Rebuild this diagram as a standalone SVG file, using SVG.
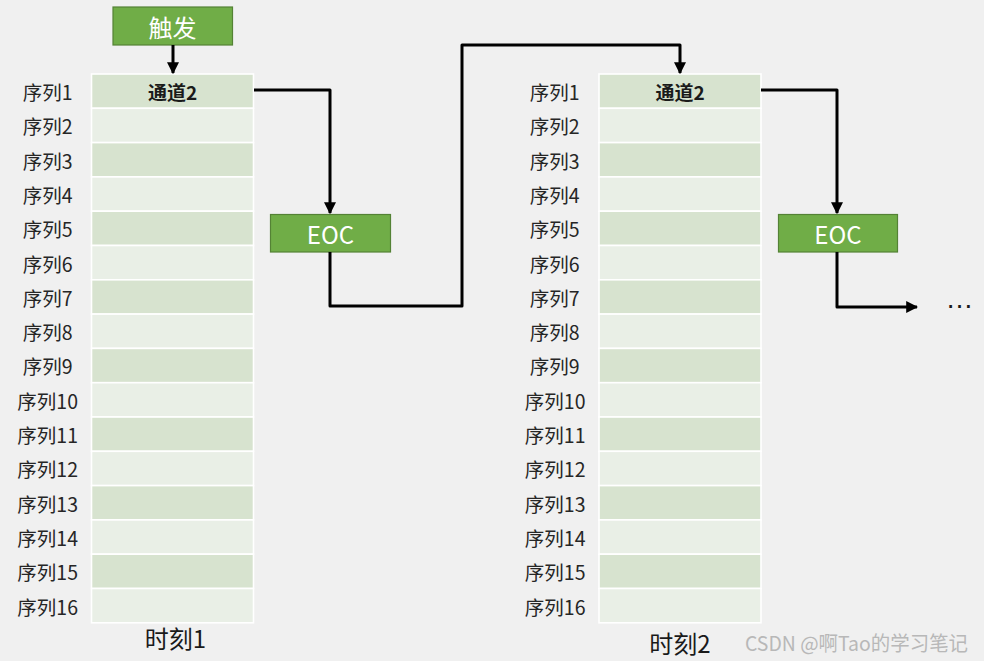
<svg xmlns="http://www.w3.org/2000/svg" width="984" height="661" viewBox="0 0 984 661">
<defs>
<style>
.bg{fill:#f0f0f0}
.dk{fill:#d7e3cf;stroke:#ffffff;stroke-width:1.6}
.lt{fill:#e9efe6;stroke:#ffffff;stroke-width:1.6}
.box{fill:#70ad47;stroke:#548235;stroke-width:1.2}
.bt{font-family:"Noto Sans CJK SC","Liberation Sans",sans-serif;fill:#ffffff;font-size:24px;text-anchor:middle;dominant-baseline:central}
.lb{font-family:"Noto Sans CJK SC","Liberation Sans",sans-serif;fill:#262626;font-size:19.5px;text-anchor:end;dominant-baseline:central}
.ch{font-family:"Noto Sans CJK SC","Liberation Sans",sans-serif;fill:#1a1a1a;font-size:19px;font-weight:bold;text-anchor:middle;dominant-baseline:central}
.tm{font-family:"Noto Sans CJK SC","Liberation Sans",sans-serif;fill:#1a1a1a;font-size:24px;text-anchor:middle;dominant-baseline:central}
.wm{font-family:"Noto Sans CJK SC","Liberation Sans",sans-serif;fill:#b8b8b8;font-size:20px;dominant-baseline:central}
.ln{fill:none;stroke:#000000;stroke-width:3;stroke-linejoin:round}
</style>
<marker id="ah" viewBox="0 0 10 10" refX="9" refY="5" markerWidth="4" markerHeight="4" orient="auto" markerUnits="strokeWidth">
<path d="M0,0 L10,5 L0,10 z" fill="#000000"/>
</marker>
</defs>
<rect class="bg" x="0" y="0" width="984" height="661"/>

<g id="trigger">
<rect class="box" x="113" y="7" width="119.5" height="38"/>
<text class="bt" x="172.5" y="26">触发</text>
</g>

<g id="table1">
<rect class="dk" x="91.5" y="74" width="162" height="34.3"/>
<rect class="lt" x="91.5" y="108.3" width="162" height="34.3"/>
<rect class="dk" x="91.5" y="142.6" width="162" height="34.3"/>
<rect class="lt" x="91.5" y="176.9" width="162" height="34.3"/>
<rect class="dk" x="91.5" y="211.2" width="162" height="34.3"/>
<rect class="lt" x="91.5" y="245.5" width="162" height="34.3"/>
<rect class="dk" x="91.5" y="279.8" width="162" height="34.3"/>
<rect class="lt" x="91.5" y="314.1" width="162" height="34.3"/>
<rect class="dk" x="91.5" y="348.4" width="162" height="34.3"/>
<rect class="lt" x="91.5" y="382.7" width="162" height="34.3"/>
<rect class="dk" x="91.5" y="417" width="162" height="34.3"/>
<rect class="lt" x="91.5" y="451.3" width="162" height="34.3"/>
<rect class="dk" x="91.5" y="485.6" width="162" height="34.3"/>
<rect class="lt" x="91.5" y="519.9" width="162" height="34.3"/>
<rect class="dk" x="91.5" y="554.2" width="162" height="34.3"/>
<rect class="lt" x="91.5" y="588.5" width="162" height="34.3"/>
<text class="ch" x="172.5" y="91.5">通道2</text>
<text class="lb" x="72.5" y="91.5">序列1</text>
<text class="lb" x="72.5" y="125.8">序列2</text>
<text class="lb" x="72.5" y="160.1">序列3</text>
<text class="lb" x="72.5" y="194.4">序列4</text>
<text class="lb" x="72.5" y="228.7">序列5</text>
<text class="lb" x="72.5" y="263">序列6</text>
<text class="lb" x="72.5" y="297.3">序列7</text>
<text class="lb" x="72.5" y="331.6">序列8</text>
<text class="lb" x="72.5" y="365.9">序列9</text>
<text class="lb" x="78" y="400.2">序列10</text>
<text class="lb" x="78" y="434.5">序列11</text>
<text class="lb" x="78" y="468.8">序列12</text>
<text class="lb" x="78" y="503.1">序列13</text>
<text class="lb" x="78" y="537.4">序列14</text>
<text class="lb" x="78" y="571.7">序列15</text>
<text class="lb" x="78" y="606">序列16</text>
<text class="tm" x="175.5" y="637">时刻1</text>
</g>

<g id="eoc1">
<rect class="box" x="270.5" y="214.5" width="120" height="37.5"/>
<text class="bt" x="330.5" y="233">EOC</text>
</g>

<g id="table2">
<rect class="dk" x="599" y="74" width="162" height="34.3"/>
<rect class="lt" x="599" y="108.3" width="162" height="34.3"/>
<rect class="dk" x="599" y="142.6" width="162" height="34.3"/>
<rect class="lt" x="599" y="176.9" width="162" height="34.3"/>
<rect class="dk" x="599" y="211.2" width="162" height="34.3"/>
<rect class="lt" x="599" y="245.5" width="162" height="34.3"/>
<rect class="dk" x="599" y="279.8" width="162" height="34.3"/>
<rect class="lt" x="599" y="314.1" width="162" height="34.3"/>
<rect class="dk" x="599" y="348.4" width="162" height="34.3"/>
<rect class="lt" x="599" y="382.7" width="162" height="34.3"/>
<rect class="dk" x="599" y="417" width="162" height="34.3"/>
<rect class="lt" x="599" y="451.3" width="162" height="34.3"/>
<rect class="dk" x="599" y="485.6" width="162" height="34.3"/>
<rect class="lt" x="599" y="519.9" width="162" height="34.3"/>
<rect class="dk" x="599" y="554.2" width="162" height="34.3"/>
<rect class="lt" x="599" y="588.5" width="162" height="34.3"/>
<text class="ch" x="680" y="91.5">通道2</text>
<text class="lb" x="579.5" y="91.5">序列1</text>
<text class="lb" x="579.5" y="125.8">序列2</text>
<text class="lb" x="579.5" y="160.1">序列3</text>
<text class="lb" x="579.5" y="194.4">序列4</text>
<text class="lb" x="579.5" y="228.7">序列5</text>
<text class="lb" x="579.5" y="263">序列6</text>
<text class="lb" x="579.5" y="297.3">序列7</text>
<text class="lb" x="579.5" y="331.6">序列8</text>
<text class="lb" x="579.5" y="365.9">序列9</text>
<text class="lb" x="585.5" y="400.2">序列10</text>
<text class="lb" x="585.5" y="434.5">序列11</text>
<text class="lb" x="585.5" y="468.8">序列12</text>
<text class="lb" x="585.5" y="503.1">序列13</text>
<text class="lb" x="585.5" y="537.4">序列14</text>
<text class="lb" x="585.5" y="571.7">序列15</text>
<text class="lb" x="585.5" y="606">序列16</text>
<text class="tm" x="680" y="642">时刻2</text>
</g>

<g id="eoc2">
<rect class="box" x="778.5" y="214.5" width="119" height="37.5"/>
<text class="bt" x="838" y="233">EOC</text>
</g>

<g id="connectors">
<path class="ln" d="M173,45 V73" marker-end="url(#ah)"/>
<path class="ln" d="M254,90 H330 V213" marker-end="url(#ah)"/>
<path class="ln" d="M330,252 V306 H462 V45 H680 V73" marker-end="url(#ah)"/>
<path class="ln" d="M761,90 H837 V213" marker-end="url(#ah)"/>
<path class="ln" d="M837,252 V307 H917" marker-end="url(#ah)"/>
</g>

<text x="959.5" y="298" font-family="Liberation Sans,sans-serif" font-size="28" fill="#1a1a1a" text-anchor="middle" dominant-baseline="central">…</text>
<text class="wm" x="745" y="642" textLength="223" lengthAdjust="spacingAndGlyphs">CSDN @啊Tao的学习笔记</text>
</svg>
